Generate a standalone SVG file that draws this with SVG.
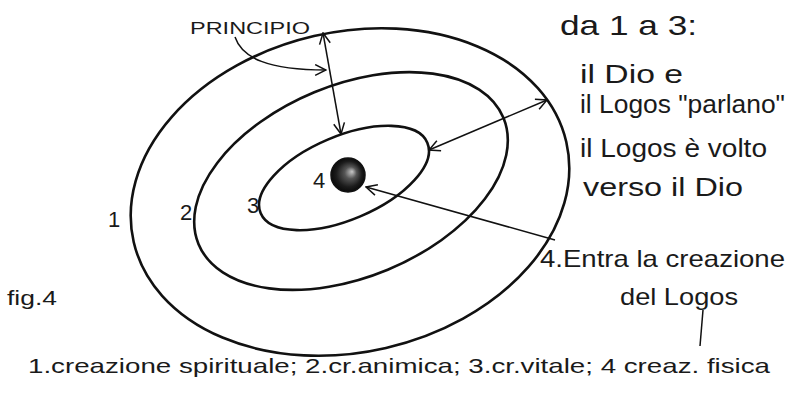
<svg xmlns="http://www.w3.org/2000/svg" width="792" height="393" viewBox="0 0 792 393">
<style>
.ring{fill:none;stroke:#111;stroke-width:2.6}
.con{fill:none;stroke:#111;stroke-width:1.5}
.t{font-family:"Liberation Sans","DejaVu Sans",sans-serif;fill:#1a1a1a}
</style>
<defs>
<marker id="ah" viewBox="0 0 12 12" refX="11" refY="6" markerWidth="13" markerHeight="13" markerUnits="userSpaceOnUse" orient="auto-start-reverse">
<path d="M1,1 L11,6 L1,11" fill="none" stroke="#111" stroke-width="1.4"/>
</marker>
<radialGradient id="ball" cx="0.5" cy="0.5" r="0.5" fx="0.62" fy="0.4">
<stop offset="0" stop-color="#c8c8c8"/>
<stop offset="0.35" stop-color="#555"/>
<stop offset="0.75" stop-color="#1c1c1c"/>
<stop offset="1" stop-color="#0a0a0a"/>
</radialGradient>
</defs>
<rect width="792" height="393" fill="#fff"/>
<g id="ring1"><ellipse class="ring" cx="350" cy="192" rx="222" ry="160" transform="rotate(-13 350 192)"/></g>
<g id="ring2"><ellipse class="ring" cx="351" cy="181" rx="165" ry="96" transform="rotate(-22.5 351 181)"/></g>
<g id="ring3"><ellipse class="ring" cx="344" cy="178" rx="90.5" ry="41.7" transform="rotate(-23 344 178)"/></g>
<g id="core"><circle cx="348" cy="175" r="17" fill="url(#ball)" stroke="#111" stroke-width="1.5"/></g>
<g id="labels">
<text class="t" x="108" y="227" font-size="22">1</text>
<text class="t" x="180" y="220" font-size="22">2</text>
<text class="t" x="247" y="213" font-size="22">3</text>
<text class="t" x="313" y="188" font-size="22">4</text>
<text class="t" x="190" y="34" font-size="16" textLength="120" lengthAdjust="spacingAndGlyphs">PRINCIPIO</text>
<text class="t" x="560" y="35" font-size="28" textLength="137" lengthAdjust="spacingAndGlyphs">da 1 a 3:</text>
<text class="t" x="580" y="83" font-size="26" textLength="103" lengthAdjust="spacingAndGlyphs">il Dio e</text>
<text class="t" x="580" y="113" font-size="26" textLength="205" lengthAdjust="spacingAndGlyphs">il Logos "parlano"</text>
<text class="t" x="580" y="157" font-size="26" textLength="187" lengthAdjust="spacingAndGlyphs">il Logos è volto</text>
<text class="t" x="583" y="196" font-size="26" textLength="160" lengthAdjust="spacingAndGlyphs">verso il Dio</text>
<text class="t" x="540" y="267" font-size="24" textLength="245" lengthAdjust="spacingAndGlyphs">4.Entra la creazione</text>
<text class="t" x="620" y="305" font-size="24" textLength="118" lengthAdjust="spacingAndGlyphs">del Logos</text>
<text class="t" x="7" y="305" font-size="20" textLength="50" lengthAdjust="spacingAndGlyphs">fig.4</text>
<text class="t" x="28" y="373" font-size="21" textLength="742" lengthAdjust="spacingAndGlyphs">1.creazione spirituale; 2.cr.animica; 3.cr.vitale; 4 creaz. fisica</text>
</g>
<g id="connectors">
<path class="con" d="M235,37 C242,58 268,70 326,70" marker-end="url(#ah)"/>
<line class="con" x1="323" y1="33" x2="341" y2="134" marker-start="url(#ah)" marker-end="url(#ah)"/>
<line class="con" x1="429" y1="150" x2="547" y2="100" marker-start="url(#ah)" marker-end="url(#ah)"/>
<line class="con" x1="555" y1="240" x2="366" y2="187" marker-end="url(#ah)"/>
<line class="con" x1="703" y1="310" x2="700" y2="346"/>
</g>
</svg>
